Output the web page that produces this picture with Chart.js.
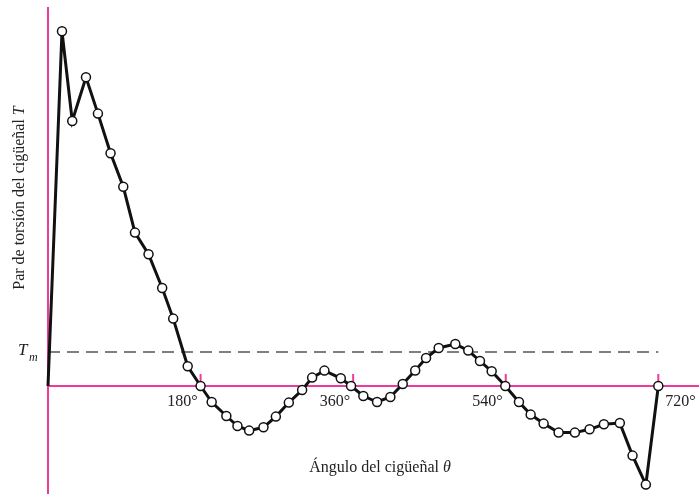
<!DOCTYPE html>
<html>
<head>
<meta charset="utf-8">
<script src="https://cdn.jsdelivr.net/npm/chart.js@4/dist/chart.umd.min.js"></script>
<style>
html,body{margin:0;padding:0;background:#fff;}
#wrap{width:699px;height:494px;position:relative;}
</style>
</head>
<body>
<div id="wrap"><canvas id="c" width="699" height="494"></canvas></div>
<script>
// Crank angle (degrees) of each plotted point
const angles = [0, 16.5, 28.6, 44.8, 58.9, 73.8, 88.8, 102.6, 118.6, 134.7, 147.7, 164.8, 180,
  193.1, 210.4, 223.5, 237.3, 254.2, 268.8, 284.1, 299.8, 311.6, 326.1, 345.4, 357.5,
  372, 388.2, 403.9, 418.5, 433.2, 446, 460.9, 480.5, 495.8, 509.6, 523.4, 539.5,
  555.6, 569.4, 584.7, 602.4, 621.6, 638.9, 655.8, 674.6, 689.6, 705.3, 720];
// Crankshaft torque T (arbitrary units)
const torque = [0, 354.7, 265, 308.7, 272.4, 232.7, 199.2, 153.4, 131.7, 98, 67.4, 19.7, 0,
  -16, -30, -40, -44.6, -41.3, -30.6, -16.6, -4, 8.4, 15.4, 7.7, 0,
  -10, -16, -11, 2, 15.5, 28, 38, 42, 35.4, 25, 14.7, 0,
  -16, -28.6, -37.6, -46.6, -46.6, -43.3, -38.3, -37, -69.6, -98.6, 0];
// Mean torque Tm
const meanTorque = 34;
const meanRange = [0, 720];
const tickAngles = [180, 360, 540, 720];
const tickLabels = ['180°', '360°', '540°', '720°'];

const MAG = '#ee3a9b';
const SERIF = '"Liberation Serif", "DejaVu Serif", serif';

const axesPlugin = {
  id: 'axesPlugin',
  beforeDatasetsDraw(chart) {
    const ctx = chart.ctx, xs = chart.scales.x, ys = chart.scales.y;
    const x0 = xs.getPixelForValue(0), y0 = ys.getPixelForValue(0);
    ctx.save();
    ctx.strokeStyle = MAG;
    ctx.lineWidth = 2;
    ctx.beginPath();
    ctx.moveTo(x0, ys.top); ctx.lineTo(x0, ys.bottom);
    ctx.moveTo(xs.left, y0); ctx.lineTo(xs.right, y0);
    tickAngles.forEach(a => {
      const px = xs.getPixelForValue(a);
      ctx.moveTo(px, y0); ctx.lineTo(px, y0 - 12);
    });
    ctx.stroke();
    ctx.restore();
  },
  afterDraw(chart) {
    const ctx = chart.ctx, xs = chart.scales.x, ys = chart.scales.y;
    const y0 = ys.getPixelForValue(0);
    ctx.save();
    ctx.fillStyle = '#222';
    ctx.font = '16px ' + SERIF;
    ctx.textBaseline = 'middle';
    tickAngles.forEach((a, i) => {
      const px = xs.getPixelForValue(a);
      if (i === tickAngles.length - 1) {
        ctx.textAlign = 'left';
        ctx.fillText(tickLabels[i], px + 7, y0 + 16);
      } else {
        ctx.textAlign = 'right';
        ctx.fillText(tickLabels[i], px - 3, y0 + 16);
      }
    });
    // x title
    ctx.textAlign = 'left';
    const t1 = 'Ángulo del cigüeñal ';
    ctx.font = '16px ' + SERIF;
    const w1 = ctx.measureText(t1).width;
    ctx.font = 'italic 16px ' + SERIF;
    const w2 = ctx.measureText('θ').width;
    let sx = 380 - (w1 + w2) / 2;
    ctx.font = '16px ' + SERIF;
    ctx.fillText(t1, sx, 468);
    ctx.font = 'italic 16px ' + SERIF;
    ctx.fillText('θ', sx + w1, 468);
    // y title
    ctx.save();
    ctx.translate(20, 198);
    ctx.rotate(-Math.PI / 2);
    const y1 = 'Par de torsión del cigüeñal ';
    ctx.font = '16px ' + SERIF;
    const wy1 = ctx.measureText(y1).width;
    ctx.font = 'italic 16px ' + SERIF;
    const wy2 = ctx.measureText('T').width;
    let sy = -(wy1 + wy2) / 2;
    ctx.font = '16px ' + SERIF;
    ctx.fillText(y1, sy, 0);
    ctx.font = 'italic 16px ' + SERIF;
    ctx.fillText('T', sy + wy1, 0);
    ctx.restore();
    // Tm label
    const ym = ys.getPixelForValue(meanTorque);
    ctx.font = 'italic 17px ' + SERIF;
    ctx.textAlign = 'left';
    ctx.fillText('T', 18, ym - 1);
    ctx.font = 'italic 12px ' + SERIF;
    ctx.fillText('m', 29, ym + 6);
    ctx.restore();
  }
};

new Chart(document.getElementById('c'), {
  type: 'scatter',
  data: {
    datasets: [
      {
        data: meanRange.map(a => ({x: a, y: meanTorque})),
        showLine: true,
        borderColor: '#555',
        borderWidth: 1.3,
        borderDash: [12, 7],
        pointRadius: 0,
        order: 2
      },
      {
        data: angles.map((a, i) => ({x: a, y: torque[i]})),
        showLine: true,
        borderColor: '#111',
        borderWidth: 3,
        pointRadius: angles.map((a, i) => i === 0 ? 0 : 4.5),
        pointBackgroundColor: '#fff',
        pointBorderColor: '#111',
        pointBorderWidth: 1.5,
        clip: false,
        order: 1
      }
    ]
  },
  options: {
    responsive: false,
    animation: false,
    devicePixelRatio: 1,
    layout: {autoPadding: false, padding: {left: 48, right: 0, top: 7, bottom: 0}},
    plugins: {legend: {display: false}, tooltip: {enabled: false}},
    scales: {
      x: {type: 'linear', min: 0, max: 768, display: false},
      y: {type: 'linear', min: -108, max: 379, display: false}
    }
  },
  plugins: [axesPlugin]
});
</script>
</body>
</html>
